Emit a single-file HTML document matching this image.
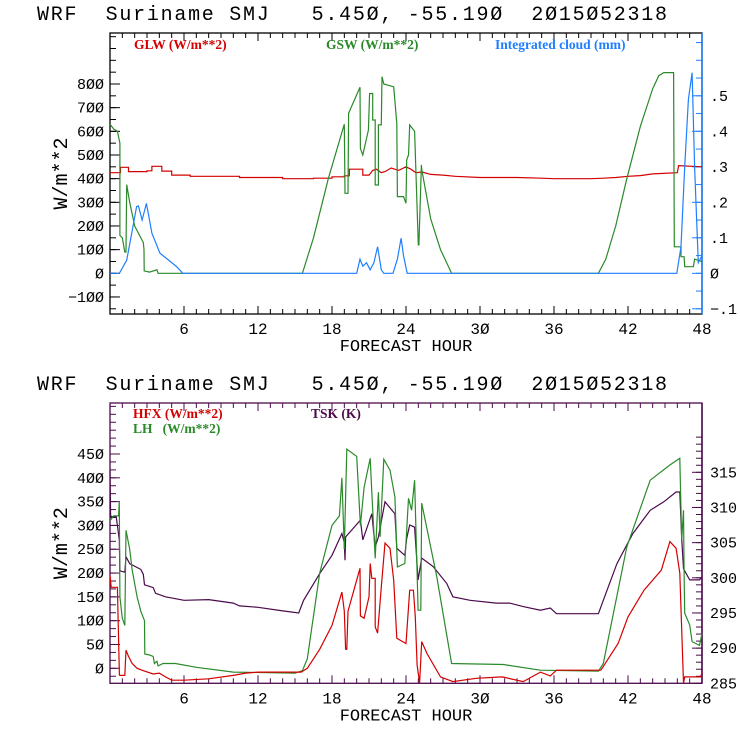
<!DOCTYPE html>
<html><head><meta charset="utf-8"><style>
html,body{margin:0;padding:0;background:#fff;}
svg{display:block;}
text{font-family:"Liberation Mono",monospace;white-space:pre;}
.lg{font-family:"Liberation Serif",serif;font-weight:bold;font-size:13.5px;}
</style></head><body>
<svg id="chart" width="740" height="740" viewBox="0 0 740 740" xmlns="http://www.w3.org/2000/svg">
<g id="g1"></g>
<g id="g2"></g>
</svg>
<script>
// ---- data (hour, value) ----
const glwHours=[0,0.85,0.85,1.5,1.5,3,3,3.4,3.4,4.2,4.2,5,5,6.5,6.5,10.5,10.5,14,14,16.5,16.5,18,18,19,19,19.4,19.4,20.5,20.5,21,21.3,21.6,22,22.3,22.8,23.4,24,24.4,24.8,25.3,26,27,28,30,33,35,36,39,40,41,42,43,44,46,46.1,48];
const glwValues=[425,425,448,448,430,430,433,433,452,452,432,432,415,415,410,410,405,405,400,400,402,402,408,408,412,412,440,440,415,415,435,440,425,430,445,435,450,440,425,428,418,415,410,405,405,402,400,400,402,405,410,413,420,425,455,450];
const gswHours=[0,0.3,0.6,0.8,0.8,1.0,1.2,1.3,1.35,1.6,2.0,2.7,2.76,2.77,3.2,3.8,3.9,15.6,16.5,17.7,19.0,19.05,19.3,19.35,20.27,20.3,20.5,20.95,21.05,21.3,21.3,21.5,21.5,21.76,21.76,22.0,22.05,22.2,23.0,23.25,23.3,23.8,24.0,24.06,24.2,24.3,24.7,25.0,25.05,25.25,25.27,26.0,26.8,27.7,39.6,40.2,41,41.9,43,44,44.5,44.9,45.7,45.75,46.3,46.3,46.55,46.6,47.3,47.4,48];
const gswValues=[630,610,600,550,160,150,90,90,375,300,200,130,100,10,5,15,0,0,150,400,630,338,338,676,786,528,500,605,760,760,648,648,373,373,627,627,831,800,788,634,324,324,296,479,500,627,600,120,120,458,440,230,100,0,0,60,200,400,620,780,835,848,848,112,112,70,70,28,28,60,50];
const cldHours=[0,0.76,1.35,1.8,2.16,2.3,2.6,2.95,3.1,3.4,4.05,5.4,5.9,20.0,20.27,20.5,20.8,21.1,21.4,21.7,22.0,22.2,22.95,23.3,23.6,23.8,24.1,45.96,46.3,46.6,46.9,47.2,47.4,47.7,48];
const cldValues=[0,0,0.037,0.12,0.188,0.19,0.15,0.197,0.17,0.113,0.057,0.019,0,0,0.04,0.02,0.03,0.01,0.03,0.075,0.01,0,0,0.04,0.099,0.05,0,0,0.075,0.3,0.49,0.565,0.3,0.03,0.05];
const hfxHours=[0,0.1,0.6,0.76,0.8,1.2,1.3,1.5,1.8,2.2,2.7,3.5,4.0,4.5,5.0,6.0,8.0,10.0,11.0,12.0,15.5,16.0,17.0,18.0,18.8,19.0,19.1,19.2,19.3,20.27,20.3,20.6,21.0,21.1,21.23,21.5,21.5,21.7,21.8,22.0,22.3,22.7,23.0,23.25,24.0,24.3,24.6,24.75,24.9,25.1,25.27,25.7,26.8,27.8,29.7,31.8,33.5,34.9,35.7,36.2,39.8,41.2,42.0,43.3,44.7,45.4,45.9,46.2,46.5,46.6,47.9,48];
const hfxValues=[195,170,170,-14,-15,-15,38,25,10,0,-5,-12,-10,-18,-25,-25,-22,-15,-10,-8,-8,0,40,90,160,120,40,40,120,210,110,105,150,220,189,189,87,74,108,171,263,252,185,63,52,164,164,108,7,-31,56,31,-18,-28,-21,-18,-28,-8,-16,-4,-4,52,108,164,206,266,252,200,-31,-18,-18,-8];
const lhHours=[0,0.3,0.7,0.75,0.8,1.0,1.2,1.3,1.6,1.8,2.2,2.5,2.8,2.82,3.2,3.5,3.6,3.8,3.9,4.3,5.3,7,10,15,15.6,16,17,18,18.6,18.8,19.0,19.2,20.0,20.3,20.6,21.1,21.23,21.5,21.76,21.9,22.2,22.7,23.1,23.3,23.9,24.2,24.45,24.7,24.98,25.2,25.27,26.5,27.7,31.9,34.9,39.6,40.0,41.9,43.8,45.4,46.2,46.35,46.5,46.55,46.6,47.0,47.2,47.8,48];
const lhValues=[310,320,320,350,150,105,90,290,250,206,150,120,100,30,28,25,10,15,5,10,10,2,-8,-10,-5,20,200,300,320,400,250,460,445,300,380,441,370,231,370,276,439,416,360,213,220,357,332,395,122,122,347,192,10,8,-4,-6,10,255,395,427,441,270,332,200,116,91,56,48,73];
const tskHours=[0,0.05,0.1,0.5,0.75,0.8,1.2,1.3,1.6,2.5,2.7,2.8,3.5,3.7,4.5,6,8,10,10.5,12,14,15.3,15.7,17,18,18.8,19,19.05,19.1,20.3,20.5,21.23,21.5,21.76,22.0,22.3,23.1,23.25,23.9,24.06,24.3,24.7,24.98,25.27,26.2,27.3,27.8,29.2,31.3,32.4,33.5,34.9,35.7,36.2,39.6,40.0,41.1,42.4,43.8,44.9,45.9,46.2,46.35,46.5,47.0,47.8,48];
const tskValues=[315.3,308.9,308.7,308.7,305.4,301,300.8,303,302,301.2,300.5,299,298.6,297.8,297.3,296.8,296.9,296.4,296.0,295.8,295.3,295.0,296.8,300.6,303.2,306.3,305,302.5,305.8,308.2,305.4,309.1,304.4,305.8,308.0,310.8,309.1,304.2,303.2,305.6,307.5,307.2,299.7,302.8,301.6,299.2,297.3,296.8,296.4,296.4,295.9,295.4,295.7,294.9,294.9,296.8,302,306.3,309.6,310.8,312.2,312.2,305.6,301.3,299.7,299.7,300.1];
const hourTicks=[6,12,18,24,30,36,42,48];
const topLeftTicks=[-100,0,100,200,300,400,500,600,700,800];
const topRightTicks=[-0.1,0,0.1,0.2,0.3,0.4,0.5];
const botLeftTicks=[0,50,100,150,200,250,300,350,400,450];
const botRightTicks=[285,290,295,300,305,310,315];

const NS='http://www.w3.org/2000/svg';
const X0=110,X1=702;
function xs(h){return X0+(h/48)*(X1-X0);}
function mk(tag,attrs,parent){const e=document.createElementNS(NS,tag);for(const k in attrs)e.setAttribute(k,attrs[k]);parent.appendChild(e);return e;}
function lin(d0,d1,p0,p1){return v=>p0+(v-d0)*(p1-p0)/(d1-d0);}
function line(par,hs,vs,sc,color,name){
  const pts=hs.map((h,i)=>xs(h).toFixed(1)+','+sc(vs[i]).toFixed(1)).join(' ');
  const el=mk('polyline',{points:pts,fill:'none',stroke:color,'stroke-width':1.2},par);
  
  
}
function txt(par,x,y,s,attrs,name){const t=mk('text',Object.assign({x:x,y:y},attrs),par);t.textContent=s;
  
  return t;}
function panel(g,top,bot,frame,rightColor,yl,yr,lmin,lmax,lstep,rmin,rmax,rstep,lt,rt,fmtR){
  // title
  txt(g,37,top-13,'WRF  Suriname SMJ   5.45Ø, -55.19Ø  2Ø15Ø52318',{'font-size':20,textLength:630,lengthAdjust:'spacing',fill:'#000'},'title-text');
  // frame
  const f=mk('rect',{x:X0,y:top,width:X1-X0,height:bot-top,fill:'none',stroke:frame,'stroke-width':1.3},g);
  
  
  mk('line',{x1:X1,y1:top,x2:X1,y2:bot,stroke:rightColor,'stroke-width':1.5},g);
  // x ticks
  for(let h=1;h<48;h++){const L=h%6==0?8:5;const x=xs(h);
    mk('line',{x1:x,y1:bot,x2:x,y2:bot-L,stroke:frame},g);mk('line',{x1:x,y1:top,x2:x,y2:top+L,stroke:frame},g);}
  hourTicks.forEach(h=>txt(g,xs(h),bot+20,String(h).replace(/0/g,'Ø'),{'font-size':16,'text-anchor':'middle',fill:'#000'},'x-tick-label'));
  txt(g,406,bot+37,'FORECAST HOUR',{'font-size':17,'text-anchor':'middle',fill:'#000'},'x-axis-title');
  // left ticks
  for(let v=lmin;v<=lmax+1e-6;v+=lstep){const y=yl(v);if(y<top||y>bot)continue;mk('line',{x1:X0,y1:y,x2:X0+6,y2:y,stroke:frame},g);}
  lt.forEach(v=>{txt(g,X0-6,yl(v)+5,String(v).replace(/0/g,'Ø').replace('-','−'),{'font-size':15,'text-anchor':'end',fill:'#000'},'y-tick-label');
    mk('line',{x1:X0,y1:yl(v),x2:X0+10,y2:yl(v),stroke:frame},g);});
  for(let v=rmin;v<=rmax+1e-6;v+=rstep){const y=yr(v);if(y<top||y>bot)continue;mk('line',{x1:X1,y1:y,x2:X1-6,y2:y,stroke:rightColor},g);}
  rt.forEach(v=>{txt(g,X1+8,yr(v)+5,fmtR(v),{'font-size':fmtR===String?12:15,fill:'#000'},'right-tick-label');
    mk('line',{x1:X1,y1:yr(v),x2:X1-10,y2:yr(v),stroke:rightColor},g);});
  txt(g,0,0,'W/m**2',{'font-size':20,'text-anchor':'middle',fill:'#000',transform:`translate(67,${(top+bot)/2}) rotate(-90)`},'y-axis-title');
}
// top
const g1=document.getElementById('g1');
const yT=lin(0,800,273.3,84), yTR=lin(0,0.5,273.3,95.8);
panel(g1,33,314,'#000','#1e7fff',yT,yTR,-150,1000,50,-0.1,0.65,0.05,topLeftTicks,topRightTicks,v=>v===0?'Ø':(v<0?'−.':'.')+Math.round(Math.abs(v)*10));
line(g1,glwHours,glwValues,yT,'#d40000','glw-line');
line(g1,gswHours,gswValues,yT,'#2a8a2a','gsw-line');
line(g1,cldHours,cldValues,yTR,'#1e7fff','cloud-line');
txt(g1,134,49,'GLW (W/m**2)',{class:'lg',fill:'#d40000'},'legend-glw');
txt(g1,326,49,'GSW (W/m**2)',{class:'lg',fill:'#2a8a2a'},'legend-gsw');
txt(g1,495,49,'Integrated cloud (mm)',{class:'lg',fill:'#1e7fff'},'legend-cloud');
// bottom
const g2=document.getElementById('g2');
const yB=lin(0,450,668.3,454), yBR=lin(285,315,683.3,472.3);
panel(g2,403,683.3,'#4b0a4b','#4b0a4b',yB,yBR,-50,600,50/3,285,320,1,botLeftTicks,botRightTicks,v=>String(v));
line(g2,tskHours,tskValues,yBR,'#4b0a4b','tsk-line');
line(g2,lhHours,lhValues,yB,'#2a8a2a','lh-line');
line(g2,hfxHours,hfxValues,yB,'#d40000','hfx-line');
txt(g2,133,418,'HFX (W/m**2)',{class:'lg',fill:'#d40000'},'legend-hfx');
txt(g2,133,433,'LH   (W/m**2)',{class:'lg',fill:'#2a8a2a'},'legend-lh');
txt(g2,311,418,'TSK (K)',{class:'lg',fill:'#4b0a4b'},'legend-tsk');
</script>
</body></html>
